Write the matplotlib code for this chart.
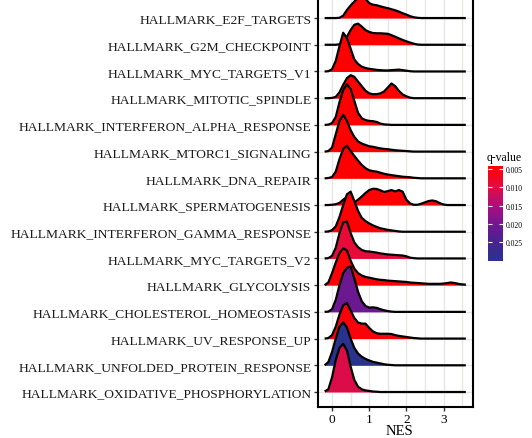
import numpy as np
import matplotlib
matplotlib.use("Agg")
import matplotlib.pyplot as plt
from matplotlib.colors import LinearSegmentedColormap, Normalize
from matplotlib.cm import ScalarMappable

plt.rcParams['font.family'] = ['Liberation Serif', 'DejaVu Serif']

# gene sets, top to bottom
pathways = ["HALLMARK_E2F_TARGETS", "HALLMARK_G2M_CHECKPOINT", "HALLMARK_MYC_TARGETS_V1",
            "HALLMARK_MITOTIC_SPINDLE", "HALLMARK_INTERFERON_ALPHA_RESPONSE",
            "HALLMARK_MTORC1_SIGNALING", "HALLMARK_DNA_REPAIR", "HALLMARK_SPERMATOGENESIS",
            "HALLMARK_INTERFERON_GAMMA_RESPONSE", "HALLMARK_MYC_TARGETS_V2",
            "HALLMARK_GLYCOLYSIS", "HALLMARK_CHOLESTEROL_HOMEOSTASIS",
            "HALLMARK_UV_RESPONSE_UP", "HALLMARK_UNFOLDED_PROTEIN_RESPONSE",
            "HALLMARK_OXIDATIVE_PHOSPHORYLATION"]

qvalue = [0.0041, 0.0041, 0.0041, 0.0041, 0.0041, 0.0041, 0.0041, 0.0045, 0.0045,
          0.0092, 0.0048, 0.021, 0.0052, 0.0301, 0.0105]

# NES grid the densities were read at
nes = [-0.2, -0.1, 0.0, 0.1, 0.2, 0.3, 0.4, 0.5, 0.6, 0.7, 0.8, 0.9, 1.0, 1.1, 1.2, 1.3,
       1.4, 1.5, 1.6, 1.7, 1.8, 1.9, 2.0, 2.1, 2.2, 2.3, 2.4, 2.5, 2.6, 2.7, 2.8, 2.9,
       3.0, 3.1, 3.2, 3.3, 3.4, 3.5, 3.6]

# ridge heights (in row units), trailing zeros left out
dens = {
    "HALLMARK_E2F_TARGETS": [0, 0, 0, 0, 0.01, 0.09, 0.3, 0.47, 0.62, 0.75, 0.88, 0.72, 0.56, 0.5,
                             0.48, 0.44, 0.4, 0.37, 0.33, 0.29, 0.24, 0.18, 0.13, 0.07, 0.03, 0.01],
    "HALLMARK_G2M_CHECKPOINT": [0, 0, 0, 0, 0.02, 0.08, 0.3, 0.55, 0.75, 0.79, 0.68, 0.55, 0.48,
                                0.44, 0.43, 0.43, 0.42, 0.41, 0.36, 0.3, 0.24, 0.18, 0.13, 0.08,
                                0.04, 0.01],
    "HALLMARK_MYC_TARGETS_V1": [0, 0.01, 0.08, 0.4, 0.95, 1.45, 1.25, 0.85, 0.45, 0.28, 0.18, 0.13,
                                0.1, 0.08, 0.06, 0.05, 0.04, 0.04, 0.05, 0.06, 0.07, 0.05, 0.03,
                                0.01],
    "HALLMARK_MITOTIC_SPINDLE": [0, 0, 0.01, 0.05, 0.22, 0.5, 0.75, 0.86, 0.8, 0.62, 0.45, 0.28,
                                 0.18, 0.15, 0.15, 0.18, 0.25, 0.4, 0.55, 0.45, 0.27, 0.14, 0.07,
                                 0.02],
    "HALLMARK_INTERFERON_ALPHA_RESPONSE": [0, 0.01, 0.07, 0.3, 0.85, 1.3, 1.52, 1.35, 0.9, 0.45,
                                           0.25, 0.18, 0.15, 0.14, 0.11, 0.05, 0.02, 0.01],
    "HALLMARK_MTORC1_SIGNALING": [0, 0.02, 0.15, 0.65, 1.15, 1.38, 1.15, 0.8, 0.55, 0.38, 0.3,
                                  0.25, 0.2, 0.18, 0.15, 0.12, 0.1, 0.09, 0.07, 0.05, 0.04, 0.03,
                                  0.02, 0.01],
    "HALLMARK_DNA_REPAIR": [0, 0.01, 0.05, 0.25, 0.72, 1.1, 1.22, 1.02, 0.84, 0.66, 0.5, 0.38,
                            0.3, 0.27, 0.25, 0.21, 0.17, 0.14, 0.12, 0.1, 0.08, 0.06, 0.05, 0.04,
                            0.02, 0.01],
    "HALLMARK_SPERMATOGENESIS": [0, 0, 0.01, 0.03, 0.08, 0.2, 0.3, 0.22, 0.1, 0.2, 0.32, 0.45,
                                 0.56, 0.61, 0.6, 0.55, 0.49, 0.52, 0.56, 0.51, 0.56, 0.5, 0.2,
                                 0.06, 0.01, 0.01, 0.05, 0.1, 0.15, 0.17, 0.14, 0.07, 0.02],
    "HALLMARK_INTERFERON_GAMMA_RESPONSE": [0, 0.01, 0.06, 0.2, 0.55, 1.0, 1.4, 1.5, 1.15, 0.78,
                                           0.52, 0.4, 0.31, 0.24, 0.18, 0.13, 0.1, 0.07, 0.05,
                                           0.03, 0.01],
    "HALLMARK_MYC_TARGETS_V2": [0, 0.01, 0.1, 0.4, 0.95, 1.35, 1.38, 0.95, 0.6, 0.42, 0.32, 0.27,
                                0.26, 0.24, 0.22, 0.19, 0.17, 0.15, 0.14, 0.13, 0.12, 0.11, 0.08,
                                0.03, 0.01],
    "HALLMARK_GLYCOLYSIS": [0, 0.1, 0.45, 0.85, 1.2, 1.38, 1.3, 0.92, 0.62, 0.45, 0.36, 0.31,
                            0.28, 0.25, 0.22, 0.2, 0.19, 0.17, 0.16, 0.15, 0.14, 0.13, 0.12, 0.1,
                            0.09, 0.08, 0.07, 0.06, 0.05, 0.05, 0.05, 0.05, 0.06, 0.08, 0.1, 0.08,
                            0.05, 0.03, 0.02],
    "HALLMARK_CHOLESTEROL_HOMEOSTASIS": [0, 0.01, 0.1, 0.45, 1.0, 1.45, 1.65, 1.7, 1.25, 0.75,
                                         0.4, 0.22, 0.16, 0.17, 0.15, 0.1, 0.06, 0.03, 0.01],
    "HALLMARK_UV_RESPONSE_UP": [0, 0.02, 0.13, 0.45, 0.9, 1.25, 1.33, 1.05, 0.77, 0.6, 0.56,
                                0.56, 0.4, 0.27, 0.2, 0.18, 0.18, 0.18, 0.17, 0.13, 0.1, 0.08,
                                0.06, 0.04, 0.02, 0.01],
    "HALLMARK_UNFOLDED_PROTEIN_RESPONSE": [0, 0.12, 0.5, 1.0, 1.45, 1.61, 1.42, 1.0, 0.65, 0.44,
                                           0.32, 0.24, 0.18, 0.13, 0.1, 0.07, 0.04, 0.02, 0.01],
    "HALLMARK_OXIDATIVE_PHOSPHORYLATION": [0.02, 0.1, 0.55, 1.2, 1.65, 1.8, 1.55, 0.95, 0.45,
                                           0.2, 0.1, 0.06, 0.04, 0.02, 0.01],
}

cmap = LinearSegmentedColormap.from_list("qv", [
    (0.0, "#ff0000"), (0.22, "#e40c41"), (0.42, "#aa0f7d"),
    (0.62, "#731691"), (0.8, "#482391"), (1.0, "#29328c")])
norm = Normalize(vmin=0.0041, vmax=0.0301)

W, H = 532, 439
fig = plt.figure(figsize=(W / 100, H / 100), dpi=100)
ax = fig.add_axes([318.3 / W, (H - 407.7) / H, (472.5 - 318.3) / W, (407.7 + 13) / H])

n = len(pathways)
x = np.array(nes)
for i, p in enumerate(pathways):
    base = n - i
    d = np.zeros(len(nes))
    d[:len(dens[p])] = dens[p]
    ax.fill_between(x, base, base + d, color=cmap(norm(qvalue[i])), lw=0, zorder=2 + i)
    ax.plot(x, base + d, color="black", lw=1.6, zorder=2 + i, solid_capstyle="butt",
            solid_joinstyle="round")

ax.set_xlim(-0.37, 3.78)
ax.set_ylim(0.45, 16.2)
ax.set_yticks(range(1, n + 1))
ax.set_yticklabels(pathways[::-1], fontsize=9.7, color="#1a1a1a")
ax.set_xticks([0, 1, 2, 3])
ax.set_xticks([0.5, 1.5, 2.5, 3.5], minor=True)
ax.tick_params(axis="x", which="minor", length=0)
ax.tick_params(axis="both", which="major", length=3, width=1, color="#333333",
               labelsize=9.7, pad=2)
ax.tick_params(axis="x", which="major", labelsize=9.5, pad=1.2)
ax.grid(True, which="both", axis="x", color="#e8e8e3", lw=1.0, zorder=0)
ax.grid(True, which="major", axis="y", color="#e8e8e3", lw=1.0, zorder=0)
ax.set_axisbelow(True)
for s in ax.spines.values():
    s.set_linewidth(1.5)
    s.set_color("black")
fig.text(399.5 / W, 1 - 431.5 / H, "NES", fontsize=10.5, ha="center", va="center")

cax = fig.add_axes([488 / W, (H - 261.7) / H, 15 / W, 95 / H])
cb = fig.colorbar(ScalarMappable(norm=norm, cmap=cmap), cax=cax)
cb.outline.set_visible(False)
cb.set_ticks([0.005, 0.010, 0.015, 0.020, 0.025])
cb.set_ticklabels(["0.005", "0.010", "0.015", "0.020", "0.025"])
cax.invert_yaxis()
cax.yaxis.set_ticks_position("both")
cax.tick_params(direction="in", color="white", length=3, width=0.8, labelsize=5.5,
                labelleft=False, labelright=True, pad=2)
fig.text(487 / W, 1 - 158 / H, "q-value", fontsize=8.5, ha="left", va="center")

fig.savefig("out.png", dpi=100)
